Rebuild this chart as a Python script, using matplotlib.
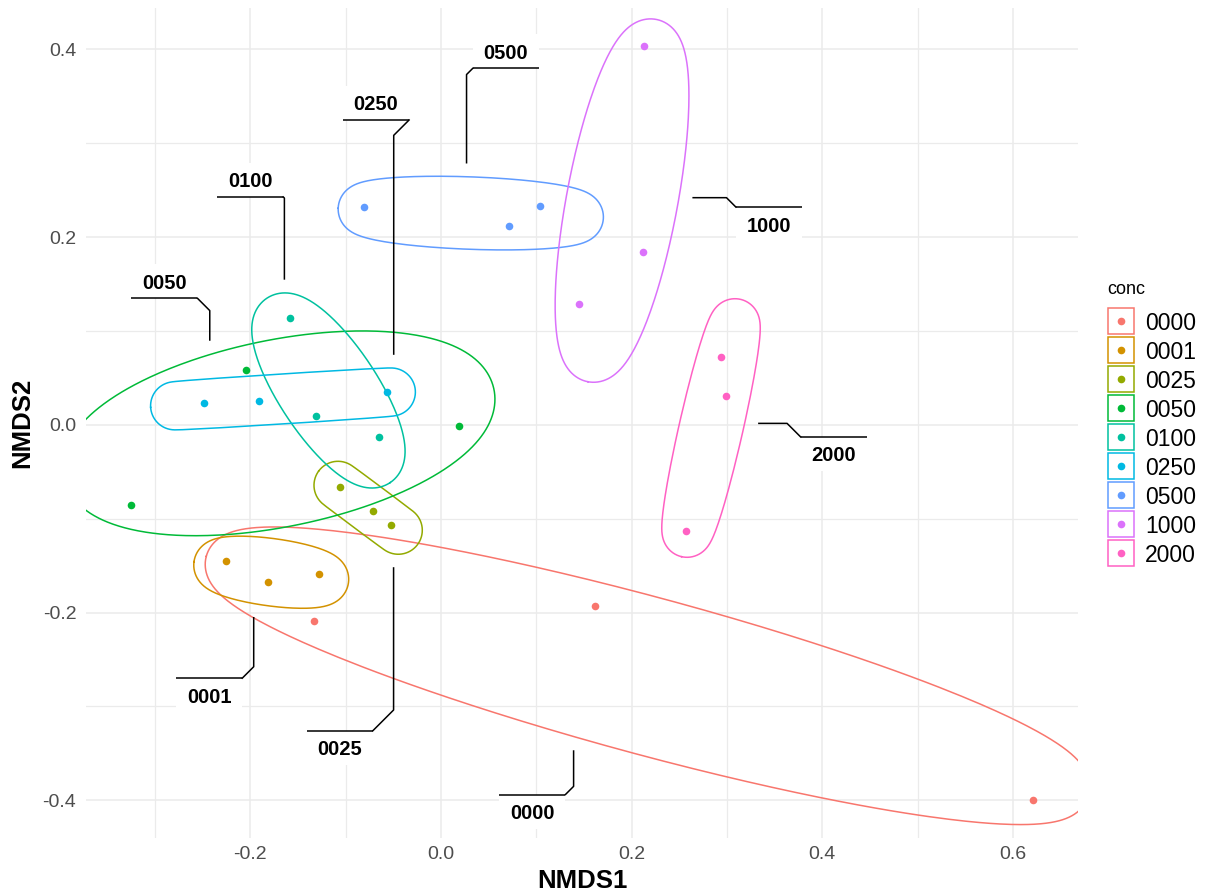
import numpy as np
import matplotlib.pyplot as plt
import matplotlib.patches as mpatches
import matplotlib.ticker as ticker

plt.rcParams['font.family'] = ['Liberation Sans', 'DejaVu Sans']
plt.rcParams['axes.unicode_minus'] = False

# NMDS scores, three replicates per concentration
conc = ['0000', '0001', '0025', '0050', '0100', '0250', '0500', '1000', '2000']
hue = ['#F8766D', '#D39200', '#93AA00', '#00BA38', '#00C19F',
       '#00B9E3', '#619CFF', '#DB72FB', '#FF61C3']

group = ['0000'] * 3 + ['0001'] * 3 + ['0025'] * 3 + ['0050'] * 3 + ['0100'] * 3 \
    + ['0250'] * 3 + ['0500'] * 3 + ['1000'] * 3 + ['2000'] * 3
nmds1 = [0.162, -0.133, 0.621,
         -0.225, -0.181, -0.128,
         -0.106, -0.071, -0.052,
         -0.204, -0.325, 0.019,
         -0.158, -0.131, -0.065,
         -0.249, -0.191, -0.057,
         -0.081, 0.071, 0.104,
         0.213, 0.212, 0.145,
         0.294, 0.299, 0.257]
nmds2 = [-0.193, -0.209, -0.400,
         -0.145, -0.167, -0.159,
         -0.066, -0.092, -0.107,
         0.059, -0.085, -0.001,
         0.114, 0.009, -0.013,
         0.023, 0.025, 0.035,
         0.232, 0.212, 0.233,
         0.404, 0.184, 0.129,
         0.072, 0.031, -0.113]

# where each group label sits (box centre, data units)
label_x = [0.096, -0.243, -0.106, -0.290, -0.200, -0.068, 0.068, 0.344, 0.412]
label_y = [-0.412, -0.288, -0.344, 0.153, 0.261, 0.343, 0.398, 0.214, -0.031]

W, H, DPI = 1206, 893, 100
EXPAND = 24      # px added around each enclosing ellipse
CAP = 14         # gap between connector and ellipse
BOX_W, BOX_H = 66, 34
grid_col = '#EBEBEB'


def mvee(P, tol=1e-6):
    # Khachiyan minimum volume enclosing ellipse
    n, d = P.shape
    Q = np.vstack([P.T, np.ones(n)])
    u = np.ones(n) / n
    err = 1.0
    while err > tol:
        X = Q @ np.diag(u) @ Q.T
        M = np.einsum('ij,ji->i', Q.T @ np.linalg.inv(X), Q)
        j = np.argmax(M)
        step = (M[j] - d - 1) / ((d + 1) * (M[j] - 1))
        new_u = (1 - step) * u
        new_u[j] += step
        err = np.linalg.norm(new_u - u)
        u = new_u
    c = P.T @ u
    A = np.linalg.inv(P.T @ np.diag(u) @ P - np.outer(c, c)) / d
    return c, A


def expanded_ellipse(P, pad, n=720):
    # sample by normal angle so thin ellipses stay smooth at the tips
    c, A = mvee(P)
    lam, V = np.linalg.eigh(A)
    a, b = 1 / np.sqrt(lam)
    phi = np.linspace(0, 2 * np.pi, n)
    k = np.sqrt(a ** 2 * np.cos(phi) ** 2 + b ** 2 * np.sin(phi) ** 2)
    loc = np.vstack([a ** 2 * np.cos(phi) / k + pad * np.cos(phi),
                     b ** 2 * np.sin(phi) / k + pad * np.sin(phi)])
    return (c[:, None] + V @ loc).T


fig = plt.figure(figsize=(W / DPI, H / DPI), dpi=DPI)
ax = fig.add_axes([86 / W, 1 - 838 / H, (1078 - 86) / W, (838 - 8) / H])

x = np.array(nmds1)
y = np.array(nmds2)
g = np.array(group)
rx, ry = x.max() - x.min(), y.max() - y.min()
ax.set_xlim(x.min() - 0.05 * rx, x.max() + 0.05 * rx)
ax.set_ylim(y.min() - 0.05 * ry, y.max() + 0.05 * ry)

ax.xaxis.set_major_locator(ticker.MultipleLocator(0.2))
ax.xaxis.set_minor_locator(ticker.FixedLocator([-0.3, -0.1, 0.1, 0.3, 0.5]))
ax.yaxis.set_major_locator(ticker.MultipleLocator(0.2))
ax.yaxis.set_minor_locator(ticker.FixedLocator([-0.3, -0.1, 0.1, 0.3]))
ax.xaxis.set_major_formatter(ticker.FormatStrFormatter('%.1f'))
ax.yaxis.set_major_formatter(ticker.FormatStrFormatter('%.1f'))
ax.grid(True, which='major', color=grid_col, lw=1.1)
ax.grid(True, which='minor', color=grid_col, lw=0.9)
ax.set_axisbelow(True)
for s in ax.spines.values():
    s.set_visible(False)
ax.tick_params(which='both', length=0)
ax.tick_params(axis='x', labelsize=14, labelcolor='#4D4D4D', pad=6)
ax.tick_params(axis='y', labelsize=14, labelcolor='#4D4D4D', pad=7)
ax.set_xlabel('NMDS1', fontsize=18.5, fontweight='bold', labelpad=4)
ax.set_ylabel('NMDS2', fontsize=18.5, fontweight='bold', labelpad=6)

toD = ax.transData.transform
toX = ax.transData.inverted().transform

shapes = {}
for k, name in enumerate(conc):
    m = g == name
    P = toD(np.column_stack([x[m], y[m]]))
    ring = expanded_ellipse(P, EXPAND)
    shapes[name] = ring
    dd = toX(ring)
    ax.plot(dd[:, 0], dd[:, 1], color=hue[k], lw=1.1, zorder=2)
    ax.scatter(x[m], y[m], s=30, color=hue[k], lw=0, zorder=3)

# labels with elbow connectors
for k, name in enumerate(conc):
    cx, cy = toD((label_x[k], label_y[k]))
    ring = shapes[name]
    corners = [(cx - BOX_W / 2, cy + BOX_H / 2), (cx + BOX_W / 2, cy + BOX_H / 2),
               (cx - BOX_W / 2, cy - BOX_H / 2), (cx + BOX_W / 2, cy - BOX_H / 2)]
    best = None
    for cn in corners:
        dist = np.hypot(ring[:, 0] - cn[0], ring[:, 1] - cn[1])
        i = np.argmin(dist)
        if best is None or dist[i] < best[0]:
            best = (dist[i], np.array(cn), ring[i])
    _, cn, p = best
    e = p + CAP * (cn - p) / np.linalg.norm(cn - p)
    dx, dy = e - cn
    if abs(dy) >= abs(dx):
        mid = (cn[0] + dx, cn[1] + np.sign(dy) * abs(dx))
    else:
        mid = (cn[0] + np.sign(dx) * abs(dy), cn[1] + dy)
    edge_y = cn[1]
    path = toX(np.array([[cx - BOX_W / 2, edge_y], [cx + BOX_W / 2, edge_y]]))
    conn = toX(np.array([cn, mid, e]))
    lo = toX((cx - BOX_W / 2, cy - BOX_H / 2))
    hi = toX((cx + BOX_W / 2, cy + BOX_H / 2))
    ax.add_patch(mpatches.Rectangle(lo, hi[0] - lo[0], hi[1] - lo[1],
                                    facecolor='white', edgecolor='none', zorder=4))
    ax.plot(path[:, 0], path[:, 1], color='black', lw=1.1, zorder=5,
            solid_capstyle='butt')
    ax.plot(conn[:, 0], conn[:, 1], color='black', lw=1.1, zorder=5,
            solid_joinstyle='round')
    ax.text(label_x[k], label_y[k], name, ha='center', va='center_baseline',
            fontsize=14.5, fontweight='bold', zorder=6)

# legend
fig.text(1107 / W, 1 - 290 / H, 'conc', fontsize=13, ha='left', va='center')
for k, name in enumerate(conc):
    yc = 320.7 + 29 * k
    fig.add_artist(mpatches.Rectangle((1108 / W, 1 - (yc + 13) / H), 26 / W, 26 / H,
                                      facecolor='white', edgecolor=hue[k], lw=1.1,
                                      transform=fig.transFigure))
    fig.add_artist(plt.Line2D([1121 / W], [1 - yc / H], marker='o', ms=5.5,
                              color=hue[k], mec='none', transform=fig.transFigure))
    fig.text(1145 / W, 1 - yc / H, name, fontsize=16.5, ha='left', va='center_baseline')

fig.savefig('out.png', dpi=DPI)
